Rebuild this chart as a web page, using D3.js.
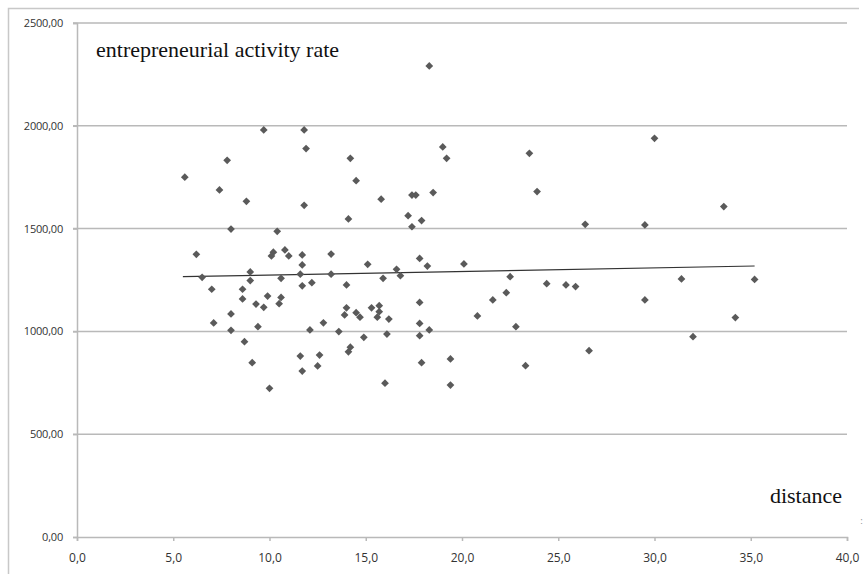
<!DOCTYPE html>
<html>
<head>
<meta charset="utf-8">
<title>entrepreneurial activity rate vs distance</title>
<script src="https://d3js.org/d3.v7.min.js"></script>
<style>
  body { margin: 0; background: #fff; }
</style>
</head>
<body>
<script>
// values
var distance = [5.6, 7.8, 7.4, 8.8, 8.0, 6.2, 6.5, 9.0, 9.0, 7.0, 8.6, 8.6, 9.3, 8.0, 7.1, 8.0, 8.7, 9.1, 9.4,
  18.3, 9.7, 11.8, 11.9, 14.2, 14.5, 19.0, 19.2, 11.8, 15.8, 17.4, 17.6, 18.5, 14.1, 17.2, 17.9, 17.4, 10.4,
  10.2, 10.1, 10.8, 11.0, 11.7, 11.7, 11.6, 11.7, 12.2, 13.2, 13.2, 10.6, 15.1, 14.0, 16.6, 16.8, 15.9, 17.8, 18.2,
  9.9, 9.7, 10.6, 10.5, 12.1, 12.8, 13.6, 14.0, 13.9, 14.5, 14.7, 14.9, 15.3, 15.7, 15.7, 15.6, 16.2, 16.1,
  14.2, 14.1, 11.6, 12.6, 11.7, 12.5, 10.0, 16.0, 17.8, 17.8, 18.3, 17.8, 17.9, 19.4, 19.4,
  23.5, 23.9, 26.4, 29.5, 20.1, 22.5, 24.4, 25.4, 25.9, 22.3, 21.6, 29.5, 20.8, 22.8, 26.6, 23.3,
  30.0, 33.6, 31.4, 35.2, 34.2, 32.0];
var rate = [1750, 1832, 1688, 1633, 1498, 1375, 1263, 1289, 1247, 1205, 1205, 1158, 1133, 1085, 1041, 1005, 950, 848, 1023,
  2291, 1980, 1980, 1889, 1842, 1733, 1897, 1842, 1613, 1643, 1663, 1663, 1675, 1547, 1563, 1539, 1509, 1487,
  1385, 1367, 1396, 1367, 1372, 1323, 1278, 1222, 1237, 1376, 1278, 1258, 1326, 1226, 1302, 1271, 1258, 1355, 1318,
  1172, 1117, 1165, 1135, 1007, 1042, 999, 1115, 1080, 1091, 1069, 971, 1115, 1125, 1096, 1069, 1060, 987,
  923, 901, 880, 885, 807, 832, 723, 748, 1141, 1039, 1007, 979, 848, 866, 739,
  1866, 1680, 1521, 1518, 1328, 1266, 1232, 1226, 1218, 1188, 1153, 1153, 1075, 1023, 906, 833,
  1939, 1607, 1255, 1253, 1067, 974];

// linear trend line end points
var trendX = [5.5, 35.2];
var trendY = [1266, 1318];

var xTicks = [0, 5, 10, 15, 20, 25, 30, 35, 40];
var yTicks = [0, 500, 1000, 1500, 2000, 2500];

var W = 867, H = 574;
var margin = {left: 77, top: 23, right: 20, bottom: 37};

var svg = d3.select('body').append('svg')
  .attr('width', W)
  .attr('height', H)
  .style('display', 'block');

svg.append('rect').attr('width', W).attr('height', H).attr('fill', '#fff');

// outer frame (top and left edges visible)
svg.append('path')
  .attr('d', 'M8.5,' + H + 'V8.5H' + (W - 8))
  .attr('fill', 'none')
  .attr('stroke', '#c8c8c8')
  .attr('stroke-width', 1.5);

var x = d3.scaleLinear().domain([0, 40]).range([margin.left, 847]);
var y = d3.scaleLinear().domain([0, 2500]).range([H - margin.bottom, margin.top]);

var loc = d3.formatLocale({decimal: ',', thousands: '', grouping: [3], currency: ['', '']});
var fx = loc.format('.1f'), fy = loc.format('.2f');

var gridColor = '#b9b9b9';

// horizontal grid lines
svg.append('g').selectAll('line')
  .data(yTicks.slice(1))
  .enter().append('line')
  .attr('x1', x(0) - 4).attr('x2', x(40))
  .attr('y1', function(d) { return y(d); })
  .attr('y2', function(d) { return y(d); })
  .attr('stroke', gridColor)
  .attr('stroke-width', 1.5);

// y axis
var yAxis = svg.append('g')
  .attr('transform', 'translate(' + x(0) + ',0)')
  .call(d3.axisLeft(y).tickValues(yTicks).tickFormat(fy).tickSize(4).tickPadding(10));
yAxis.selectAll('text')
  .style('font-family', '"Open Sans", "DejaVu Sans", sans-serif')
  .style('font-size', '11px')
  .style('letter-spacing', '-0.2px')
  .attr('fill', '#333');

// x axis
var xAxis = svg.append('g')
  .attr('transform', 'translate(0,' + y(0) + ')')
  .call(d3.axisBottom(x).tickValues(xTicks).tickFormat(fx).tickSize(4).tickPadding(12));
xAxis.selectAll('text')
  .style('font-family', '"Open Sans", "DejaVu Sans", sans-serif')
  .style('font-size', '12px')
  .attr('fill', '#333');

[yAxis, xAxis].forEach(function(g) {
  g.select('.domain').attr('stroke', gridColor).attr('stroke-width', 1.5);
  g.selectAll('.tick line').attr('stroke', gridColor).attr('stroke-width', 1.5);
});

// trend line
svg.append('line')
  .attr('x1', x(trendX[0])).attr('y1', y(trendY[0]))
  .attr('x2', x(trendX[1])).attr('y2', y(trendY[1]))
  .attr('stroke', '#333')
  .attr('stroke-width', 1.2);

// points (diamonds)
var diamond = d3.symbol().type(d3.symbolSquare).size(30);
svg.append('g').selectAll('path')
  .data(d3.range(distance.length))
  .enter().append('path')
  .attr('d', diamond)
  .attr('transform', function(i) {
    return 'translate(' + x(distance[i]) + ',' + y(rate[i]) + ') rotate(45)';
  })
  .attr('fill', '#5a5a5a');

// labels
svg.append('text')
  .attr('x', 96).attr('y', 57)
  .style('font-family', '"Liberation Serif", "Times New Roman", serif')
  .style('font-size', '22px')
  .attr('fill', '#111')
  .text('entrepreneurial activity rate');

svg.append('text')
  .attr('x', 842).attr('y', 503)
  .attr('text-anchor', 'end')
  .style('font-family', '"Liberation Serif", "Times New Roman", serif')
  .style('font-size', '22px')
  .attr('fill', '#111')
  .text('distance');

svg.append('text')
  .attr('x', 860).attr('y', 524)
  .style('font-family', '"DejaVu Sans", sans-serif')
  .style('font-size', '9px')
  .attr('fill', '#999')
  .text(':');
</script>
</body>
</html>
